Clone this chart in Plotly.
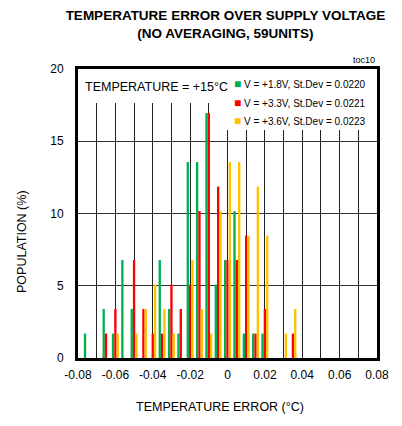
import plotly.graph_objects as go

# Bin centres (temperature error, °C)
bins = [-0.075, -0.070, -0.065, -0.060, -0.055, -0.050, -0.045, -0.040,
        -0.035, -0.030, -0.025, -0.020, -0.015, -0.010, -0.005, 0.000,
        0.005, 0.010, 0.015, 0.020, 0.025, 0.030, 0.035]

# Population (%) for each supply voltage
pop_1v8 = [1.69, 0, 3.39, 1.69, 6.78, 3.39, 0, 0,
           6.78, 3.39, 1.69, 13.56, 13.56, 16.95, 5.08, 6.78,
           10.17, 1.69, 1.69, 1.69, 0, 0, 0]
pop_3v3 = [0, 0, 1.69, 3.39, 0, 6.78, 3.39, 1.69,
           1.69, 5.08, 3.39, 5.08, 10.17, 16.95, 11.86, 6.78,
           6.78, 8.47, 1.69, 3.39, 0, 0, 1.69]
pop_3v6 = [0, 0, 0, 1.69, 0, 1.69, 3.39, 5.08,
           3.39, 1.69, 0, 6.78, 3.39, 1.69, 10.17, 13.56,
           13.56, 8.47, 11.86, 8.47, 0, 1.69, 3.39]

series_names = ["V = +1.8V, St.Dev = 0.0220",
                "V = +3.3V, St.Dev = 0.0221",
                "V = +3.6V, St.Dev = 0.0223"]
colors = ["#00B050", "#FF0000", "#FFC000"]

x_ticks = [-0.08, -0.06, -0.04, -0.02, 0, 0.02, 0.04, 0.06, 0.08]
x_tick_labels = ["-0.08", "-0.06", "-0.04", "-0.02", "0", "0.02", "0.04", "0.06", "0.08"]
y_ticks = [0, 5, 10, 15, 20]

FONT = "Liberation Sans, Arial, sans-serif"

# The page body adds an 8px offset, so the figure is 8px smaller on each axis
W, H = 394, 418
L, T = 70, 61
PW, PH = 299, 289

fig = go.Figure()
for name, vals, c in zip(series_names, [pop_1v8, pop_3v3, pop_3v6], colors):
    fig.add_trace(go.Bar(x=bins, y=vals, name=name, marker=dict(color=c, line=dict(width=0)),
                         showlegend=False))

fig.update_layout(
    width=W, height=H,
    margin=dict(l=L, r=W - L - PW, t=T, b=H - T - PH, autoexpand=False),
    paper_bgcolor="white", plot_bgcolor="white",
    barmode="group", bargap=0.25, bargroupgap=0.0,
    font=dict(family=FONT, size=12, color="black"),
    title=dict(text="<b>TEMPERATURE ERROR OVER SUPPLY VOLTAGE<br>(NO AVERAGING, 59UNITS)</b>",
               font=dict(family=FONT, size=13.5, color="black"),
               x=0.493, xref="paper", xanchor="center",
               y=1 - 12 / H, yref="container", yanchor="middle"),
    xaxis=dict(range=[-0.08, 0.08], tickvals=x_ticks, ticktext=x_tick_labels,
               showgrid=True, gridcolor="#222", gridwidth=1,
               minor=dict(dtick=0.01, tick0=0, showgrid=True, gridcolor="#222", gridwidth=1),
               zeroline=False, showline=True, mirror=True, linecolor="black", linewidth=3,
               ticks="", ticklabelstandoff=4, tickfont=dict(size=12)),
    yaxis=dict(range=[0, 20], tickvals=y_ticks,
               showgrid=True, gridcolor="#333", gridwidth=1.2,
               zeroline=False, showline=True, mirror=True, linecolor="black", linewidth=3,
               ticks="", ticklabelstandoff=9, tickfont=dict(size=12)),
)

# white boxes behind the inset texts (cover the grid)
fig.add_shape(type="rect", xref="x", yref="y", x0=-0.08, x1=-0.004, y0=17.65, y1=20,
              fillcolor="white", line=dict(width=0), layer="between")
fig.add_shape(type="rect", xref="x", yref="y", x0=-0.004, x1=0.08, y0=15.78, y1=20,
              fillcolor="white", line=dict(width=0), layer="between")

fig.add_annotation(text="TEMPERATURE = +15°C", xref="paper", yref="paper",
                   x=0.0167, y=(358 - 87) / PH, xanchor="left", yanchor="middle",
                   showarrow=False, font=dict(size=12.5))

leg_y = [84, 102.5, 121]
for name, c, yy in zip(series_names, colors, leg_y):
    fig.add_annotation(text=f"<span style='color:{c};font-size:12px'>■</span> {name}",
                       xref="paper", yref="paper", x=(232 - 78) / PW, y=(358 - yy) / PH,
                       xanchor="left", yanchor="middle", showarrow=False,
                       font=dict(size=10))

fig.add_annotation(text="toc10", xref="paper", yref="paper", x=1.0, y=(358 - 60) / PH,
                   xanchor="right", yanchor="middle", showarrow=False, font=dict(size=9))

fig.add_annotation(text="TEMPERATURE ERROR (°C)", xref="paper", yref="paper",
                   x=(220 - 78) / PW, y=(358 - 406.7) / PH, xanchor="center", yanchor="middle",
                   showarrow=False, font=dict(size=12.5))
fig.add_annotation(text="POPULATION (%)", xref="paper", yref="paper", textangle=-90,
                   x=(22.5 - 78) / PW, y=(358 - 241.5) / PH, xanchor="center", yanchor="middle",
                   showarrow=False, font=dict(size=12.5))

fig.write_html("out.html")
